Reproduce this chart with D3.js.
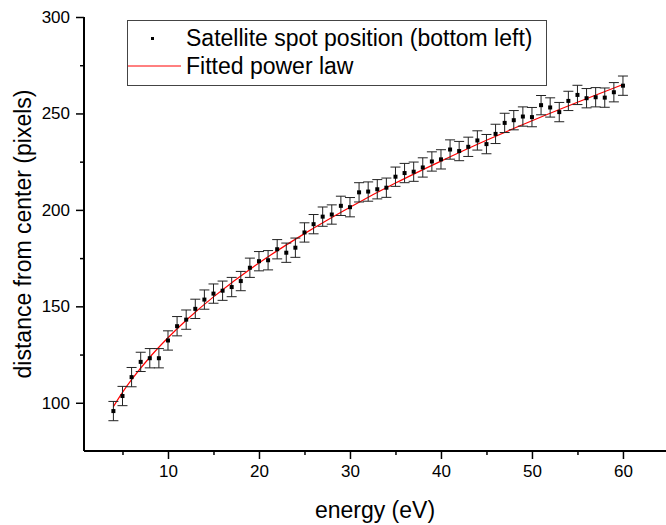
<!DOCTYPE html>
<html><head><meta charset="utf-8">
<script src="https://cdn.jsdelivr.net/npm/d3@7"></script>
<style>
html,body{margin:0;padding:0;background:#fff;}
svg{display:block;font-family:"Liberation Sans",Arial,sans-serif;}
</style></head>
<body><svg id="chart" width="666" height="525"></svg>
<script>
const energy = [4,5,6,7,8,9,10,11,12,13,14,15,16,17,18,19,20,21,22,23,24,25,26,27,28,29,30,31,32,33,34,35,36,37,38,39,40,41,42,43,44,45,46,47,48,49,50,51,52,53,54,55,56,57,58,59,60];
const distance = [95.7,103.5,113.3,121.2,123.1,123.1,132.3,139.7,143.1,148.7,153.5,156.6,158.1,160.0,163.1,170.0,173.4,173.9,179.6,177.8,180.4,188.3,192.6,196.5,197.6,202.1,201.4,209.1,209.5,210.7,211.5,217.2,219.1,219.8,222.0,225.1,226.2,231.3,230.5,232.7,236.0,234.1,239.4,245.1,246.5,248.4,248.1,254.3,253.1,250.7,256.5,259.6,257.9,258.4,258.2,261.0,264.4];
const errors = [5,5,5,5,5,5,5,5,5,5,5,5,5,5,5,5,5,5,5,5,5,5,5,5,5,5,5,5,5,5,5,5,5,5,5,5,5,5,5,5,5,5,5,5,5,5,5,5,5,5,5,5,5,5,5,5,5];
const fitX = [4,5,6,8,10,12,15,20,25,30,35,40,45,50,55,60];
const fitY = [98.0,105.4,112.0,123.6,133.7,142.8,154.9,172.5,187.7,201.4,213.9,225.3,236.1,246.2,255.8,265.0];
const xTicks = [10,20,30,40,50,60];
const xMinor = [5,15,25,35,45,55];
const yTicks = [100,150,200,250,300];
const yMinor = [125,175,225,275];
const legendLabels = ["Satellite spot position (bottom left)", "Fitted power law"];
const xTitle = "energy (eV)";
const yTitle = "distance from center (pixels)";

const svg = d3.select("#chart");
const L = 84, R = 666, T = 17, B = 451;
const x = d3.scaleLinear().domain([0.77, 64.73]).range([L, R]);
const y = d3.scaleLinear().domain([75, 300]).range([B, T]);

// axes
svg.append("g").attr("transform", `translate(0,${B})`)
  .call(d3.axisBottom(x).tickValues(xTicks).tickSize(8).tickPadding(6).tickFormat(d3.format("d")));
svg.append("g").attr("transform", `translate(0,${B})`)
  .call(d3.axisBottom(x).tickValues(xMinor).tickSize(4).tickFormat(""));
svg.append("g").attr("transform", `translate(${L},0)`)
  .call(d3.axisLeft(y).tickValues(yTicks).tickSize(8).tickPadding(6).tickFormat(d3.format("d")));
svg.append("g").attr("transform", `translate(${L},0)`)
  .call(d3.axisLeft(y).tickValues(yMinor).tickSize(4).tickFormat(""));
svg.selectAll(".domain").remove();
svg.selectAll(".tick line").attr("stroke", "#000").attr("stroke-width", 1.5);
svg.selectAll(".tick text").attr("font-size", 17).attr("fill", "#000")
  .attr("font-family", "'Liberation Sans', Arial, sans-serif");
svg.append("line").attr("x1", L).attr("x2", R).attr("y1", B).attr("y2", B)
  .attr("stroke", "#000").attr("stroke-width", 2);
svg.append("line").attr("x1", L).attr("x2", L).attr("y1", T).attr("y2", B)
  .attr("stroke", "#000").attr("stroke-width", 2);

// titles
svg.append("text").attr("x", (L + R) / 2).attr("y", 518).attr("text-anchor", "middle")
  .attr("font-size", 23).text(xTitle);
svg.append("text").attr("transform", `translate(31,${(T + B) / 2}) rotate(-90)`)
  .attr("text-anchor", "middle").attr("font-size", 23).text(yTitle);

// fit line
svg.append("path").datum(fitX.map((v, i) => [v, fitY[i]]))
  .attr("fill", "none").attr("stroke", "#ff0000").attr("stroke-width", 1.2)
  .attr("d", d3.line().x(d => x(d[0])).y(d => y(d[1])).curve(d3.curveCatmullRom));

// error bars
const data = energy.map((e, i) => ({e, d: distance[i], err: errors[i]}));
const eb = svg.append("g").attr("stroke", "#222").attr("stroke-width", 1);
eb.selectAll("line.v").data(data).join("line").attr("class", "v")
  .attr("x1", d => x(d.e)).attr("x2", d => x(d.e))
  .attr("y1", d => y(d.d - d.err)).attr("y2", d => y(d.d + d.err));
eb.selectAll("line.t").data(data).join("line").attr("class", "t")
  .attr("x1", d => x(d.e) - 5).attr("x2", d => x(d.e) + 5)
  .attr("y1", d => y(d.d + d.err)).attr("y2", d => y(d.d + d.err));
eb.selectAll("line.b").data(data).join("line").attr("class", "b")
  .attr("x1", d => x(d.e) - 5).attr("x2", d => x(d.e) + 5)
  .attr("y1", d => y(d.d - d.err)).attr("y2", d => y(d.d - d.err));

// points
svg.append("g").selectAll("rect").data(data).join("rect")
  .attr("x", d => x(d.e) - 2).attr("y", d => y(d.d) - 2)
  .attr("width", 4).attr("height", 4).attr("fill", "#000");

// legend
const lg = svg.append("g");
lg.append("rect").attr("x", 127.5).attr("y", 20.5).attr("width", 419).attr("height", 65)
  .attr("fill", "#fff").attr("stroke", "#444").attr("stroke-width", 1);
lg.append("rect").attr("x", 151).attr("y", 37).attr("width", 3).attr("height", 3).attr("fill", "#000");
lg.append("line").attr("x1", 128).attr("x2", 181).attr("y1", 66).attr("y2", 66)
  .attr("stroke", "#ff0000").attr("stroke-width", 1);
lg.selectAll("text").data(legendLabels).join("text")
  .attr("x", 186).attr("y", (d, i) => 46 + i * 28).attr("font-size", 23).attr("fill", "#000")
  .text(d => d);
</script></body></html>
